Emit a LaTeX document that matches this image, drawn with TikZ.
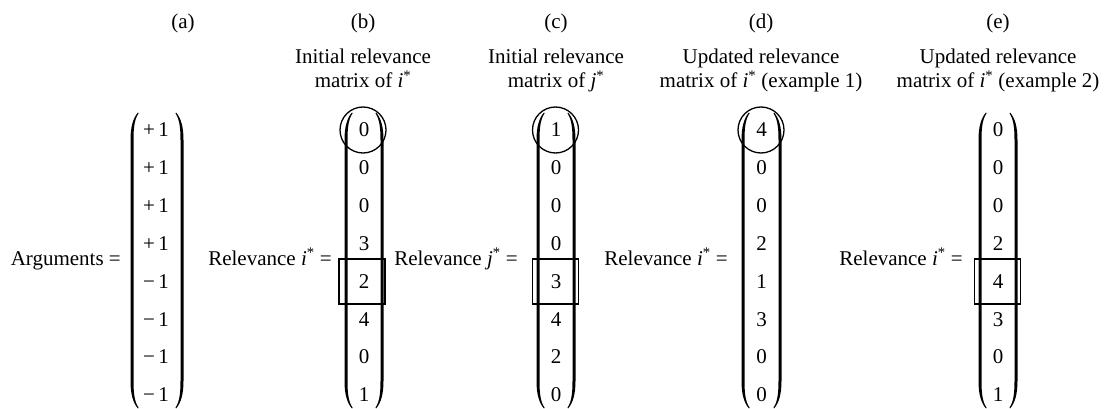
\documentclass[tikz,border=0pt]{standalone}
\usepackage{fontspec}
\setmainfont{Liberation Serif}
\begin{document}
\begin{tikzpicture}[x=1pt,y=-1pt,
  every node/.style={inner sep=0pt, font=\fontsize{21}{24}\selectfont},
  ent/.style={anchor=base},
  lbl/.style={anchor=base},
  eqlbl/.style={anchor=base east},
  hibox/.style={draw, line width=1.5pt, minimum width=46pt, minimum height=45pt},
  hicirc/.style={draw, circle, line width=1.3pt, minimum size=46pt},
  lpar/.pic={\fill (6.5,113.5) .. controls (2.5,119) and (1.5,128) .. (1.5,140) -- (1.5,381)
      .. controls (1.5,393) and (2.5,402) .. (6.5,407.5) -- (6,408.5)
      .. controls (1,403) and (-1.5,394) .. (-1.5,381) -- (-1.5,140)
      .. controls (-1.5,127) and (1,118) .. (6,112.5) -- cycle;}
]
\useasboundingbox (0,0) rectangle (1106,409);
% parentheses
\pic at (132,0) {lpar};
\pic[xscale=-1] at (182,0) {lpar};
\pic at (346,0) {lpar};
\pic[xscale=-1] at (382,0) {lpar};
\pic at (538,0) {lpar};
\pic[xscale=-1] at (574,0) {lpar};
\pic at (743,0) {lpar};
\pic[xscale=-1] at (780,0) {lpar};
\pic at (980,0) {lpar};
\pic[xscale=-1] at (1016,0) {lpar};
% labels
\node[lbl] (la) at (183,29) {(a)};
\node[lbl] (lb) at (363,29) {(b)};
\node[lbl] (lc) at (556,29) {(c)};
\node[lbl] (ld) at (761,29) {(d)};
\node[lbl] (le) at (998,29) {(e)};
\node[lbl] (tb1) at (363,64) {Initial relevance};
\node[lbl] (tb2) at (363,88) {matrix of \textit{i}\textsuperscript{*}};
\node[lbl] (tc1) at (556,64) {Initial relevance};
\node[lbl] (tc2) at (556,88) {matrix of \textit{j}\textsuperscript{*}};
\node[lbl] (td1) at (761,64) {Updated relevance};
\node[lbl] (td2) at (761,88) {matrix of \textit{i}\textsuperscript{*} (example 1)};
\node[lbl] (te1) at (998,64) {Updated relevance};
\node[lbl] (te2) at (998,88) {matrix of \textit{i}\textsuperscript{*} (example 2)};
% equation labels
\node[eqlbl] (arg) at (121,265) {Arguments =};
\node[eqlbl] (rb) at (332,265) {Relevance \textit{i}\textsuperscript{*} =};
\node[eqlbl] (rc) at (518,265) {Relevance \textit{j}\textsuperscript{*} =};
\node[eqlbl] (rd) at (728,265) {Relevance \textit{i}\textsuperscript{*} =};
\node[eqlbl] (re) at (963,265) {Relevance \textit{i}\textsuperscript{*} =};
% entries
\foreach \v [count=\k] in {+\,1,+\,1,+\,1,+\,1,−\,1,−\,1,−\,1,−\,1}
  \node[ent] (a\k) at (156,{136.5+37.9*(\k-1)}) {\v};
\foreach \v [count=\k] in {0,0,0,3,2,4,0,1}
  \node[ent] (b\k) at (364,{136.5+37.9*(\k-1)}) {\v};
\foreach \v [count=\k] in {1,0,0,0,3,4,2,0}
  \node[ent] (c\k) at (556,{136.5+37.9*(\k-1)}) {\v};
\foreach \v [count=\k] in {4,0,0,2,1,3,0,0}
  \node[ent] (d\k) at (761.5,{136.5+37.9*(\k-1)}) {\v};
\foreach \v [count=\k] in {0,0,0,2,4,3,0,1}
  \node[ent] (e\k) at (998,{136.5+37.9*(\k-1)}) {\v};
% highlights
\node[hicirc] (cb) at (363,130) {};
\node[hicirc] (cc) at (555.5,130) {};
\node[hicirc] (cd) at (761,130) {};
\node[hibox] (bb) at (362,281.5) {};
\node[hibox] (bc) at (555.5,281.5) {};
\node[hibox] (be) at (997.5,281.5) {};
\end{tikzpicture}
\end{document}
